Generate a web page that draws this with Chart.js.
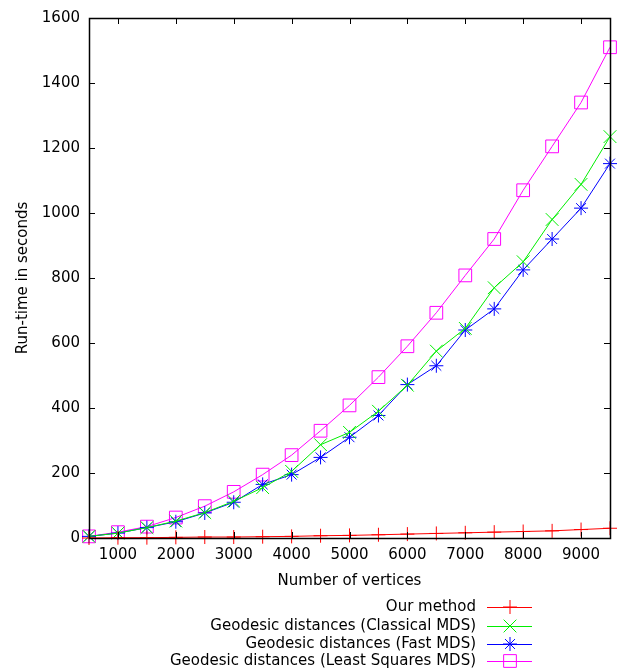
<!DOCTYPE html>
<html>
<head>
<meta charset="utf-8">
<script src="https://cdn.jsdelivr.net/npm/chart.js@4/dist/chart.umd.min.js"></script>
<style>
  html, body { margin: 0; padding: 0; background: #fff; }
  #wrap { width: 617px; height: 669px; }
</style>
</head>
<body>
<div id="wrap"><canvas id="runtimeChart" width="617" height="669"></canvas></div>
<script>
const vertices = [500, 1000, 1500, 2000, 2500, 3000, 3500, 4000, 4500, 5000, 5500, 6000, 6500, 7000, 7500, 8000, 8500, 9000, 9500];
const ourMethod = [0, 1, 1, 2, 3, 3, 4, 5, 7, 8, 10, 12, 14, 16, 18, 20, 22, 26, 30];
const classicalMDS = [5, 15, 32, 52, 78, 113, 155, 205, 287, 325, 390, 470, 575, 645, 770, 850, 980, 1088, 1235];
const fastMDS = [5, 15, 32, 50, 77, 110, 165, 195, 248, 310, 377, 472, 530, 640, 705, 825, 920, 1015, 1152];
const leastSquaresMDS = [5, 18, 35, 63, 98, 142, 195, 255, 330, 408, 495, 590, 693, 808, 920, 1070, 1205, 1340, 1510];
const xTicks = [1000, 2000, 3000, 4000, 5000, 6000, 7000, 8000, 9000];
const yTicks = [0, 200, 400, 600, 800, 1000, 1200, 1400, 1600];

const FONT = 'DejaVu Sans';

function series(label, values, color, style, radius) {
    return {
        label: label,
        data: vertices.map((v, i) => ({ x: v, y: values[i] })),
        borderColor: color,
        backgroundColor: 'rgba(0,0,0,0)',
        pointBorderColor: color,
        pointBackgroundColor: 'rgba(0,0,0,0)',
        pointStyle: style,
        pointRadius: radius,
        pointHoverRadius: radius,
        pointBorderWidth: 1,
        borderWidth: 1,
        tension: 0,
        fill: false,
        clip: false
    };
}

// gnuplot-style frame with inward ticks on all four sides
const framePlugin = {
    id: 'frame',
    afterDatasetsDraw(chart) {
        const { ctx, chartArea: a, scales } = chart;
        ctx.save();
        ctx.strokeStyle = '#000';
        ctx.lineWidth = 1;
        ctx.beginPath();
        xTicks.forEach(t => {
            const x = Math.round(scales.x.getPixelForValue(t)) + 0.5;
            ctx.moveTo(x, a.bottom); ctx.lineTo(x, a.bottom - 6);
            ctx.moveTo(x, a.top); ctx.lineTo(x, a.top + 6);
        });
        yTicks.forEach(t => {
            const y = Math.round(scales.y.getPixelForValue(t)) + 0.5;
            ctx.moveTo(a.left, y); ctx.lineTo(a.left + 6, y);
            ctx.moveTo(a.right, y); ctx.lineTo(a.right - 6, y);
        });
        ctx.stroke();
        ctx.lineWidth = 1.5;
        ctx.strokeRect(Math.round(a.left) + 0.5, Math.round(a.top) + 0.5,
            Math.round(a.right - a.left), Math.round(a.bottom - a.top));
        ctx.restore();
    }
};

// key below the plot: right-aligned text, sample line on the right
const keyPlugin = {
    id: 'key',
    afterDraw(chart) {
        const ctx = chart.ctx;
        const rows = [607, 626, 644, 661];
        ctx.save();
        ctx.font = '15px "' + FONT + '"';
        ctx.textAlign = 'right';
        ctx.textBaseline = 'middle';
        chart.data.datasets.forEach((ds, i) => {
            const y = rows[i];
            ctx.fillStyle = '#000';
            ctx.fillText(ds.label, 476, y);
            ctx.strokeStyle = ds.borderColor;
            ctx.fillStyle = 'rgba(0,0,0,0)';
            ctx.lineWidth = 1;
            ctx.beginPath();
            ctx.moveTo(487, y + 0.5);
            ctx.lineTo(532, y + 0.5);
            ctx.stroke();
            Chart.helpers.drawPoint(ctx, {
                pointStyle: ds.pointStyle,
                radius: ds.pointRadius,
                borderWidth: 1,
                rotation: 0
            }, 510, y);
        });
        ctx.restore();
    }
};

new Chart(document.getElementById('runtimeChart').getContext('2d'), {
    type: 'line',
    data: {
        datasets: [
            series('Our method', ourMethod, '#ff0000', 'cross', 7),
            series('Geodesic distances (Classical MDS)', classicalMDS, '#00ee00', 'crossRot', 9),
            series('Geodesic distances (Fast MDS)', fastMDS, '#0000ff', 'star', 7),
            series('Geodesic distances (Least Squares MDS)', leastSquaresMDS, '#ff00ff', 'rect', 9)
        ]
    },
    options: {
        responsive: false,
        animation: false,
        layout: { autoPadding: false, padding: { top: 18, right: 7, bottom: 79, left: 0 } },
        plugins: {
            legend: { display: false },
            tooltip: { enabled: false }
        },
        scales: {
            x: {
                type: 'linear',
                min: 500,
                max: 9500,
                grid: { display: false },
                border: { display: false },
                afterBuildTicks: scale => { scale.ticks = xTicks.map(v => ({ value: v })); },
                afterFit: scale => { scale.height = 52; },
                ticks: {
                    color: '#000',
                    padding: 0,
                    maxRotation: 0,
                    autoSkip: false,
                    callback: v => String(v),
                    font: { family: FONT, size: 15 }
                },
                title: {
                    display: true,
                    text: 'Number of vertices',
                    color: '#000',
                    padding: { top: 4, bottom: 0 },
                    font: { family: FONT, size: 15 }
                }
            },
            y: {
                min: 0,
                max: 1600,
                grid: { display: false },
                border: { display: false },
                afterBuildTicks: scale => { scale.ticks = yTicks.map(v => ({ value: v })); },
                afterFit: scale => { scale.width = 89; },
                ticks: {
                    color: '#000',
                    padding: 1,
                    autoSkip: false,
                    callback: v => String(v),
                    font: { family: FONT, size: 15 }
                },
                title: {
                    display: true,
                    text: 'Run-time in seconds',
                    color: '#000',
                    padding: { top: 14, bottom: 0 },
                    font: { family: FONT, size: 15 }
                }
            }
        }
    },
    plugins: [framePlugin, keyPlugin]
});
</script>
</body>
</html>
